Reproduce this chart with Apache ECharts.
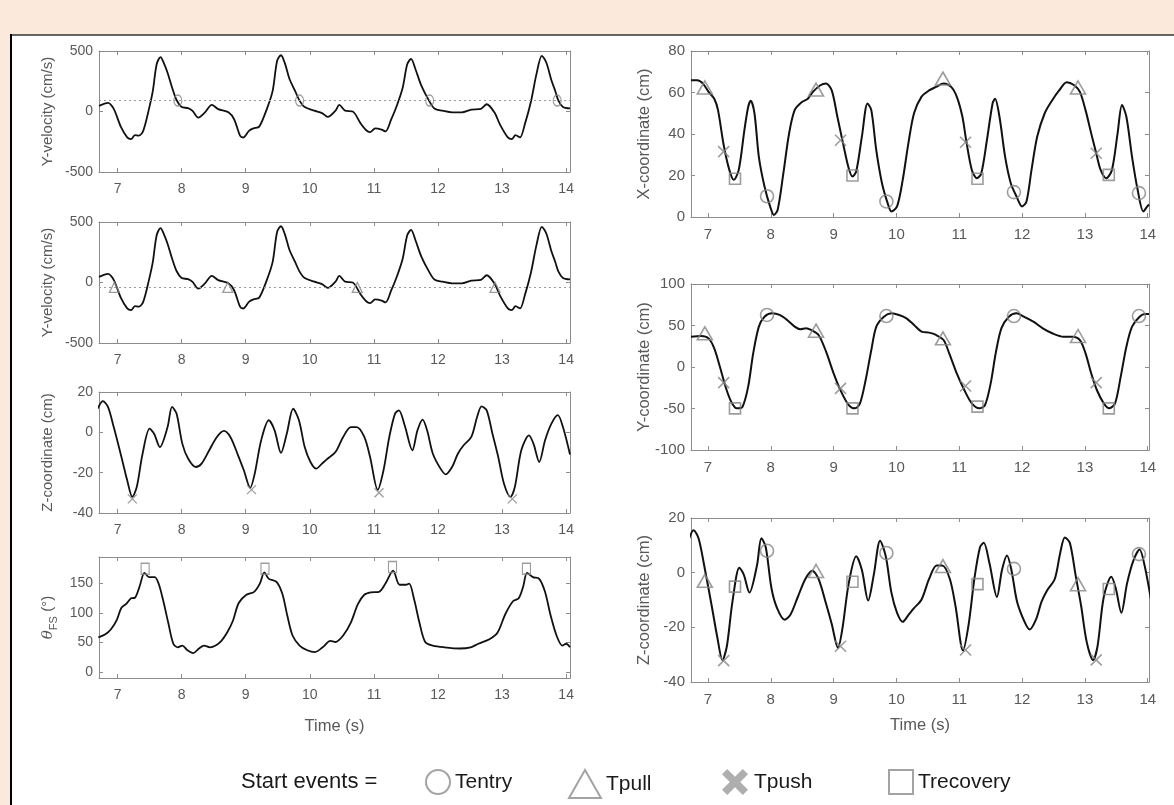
<!DOCTYPE html>
<html>
<head>
<meta charset="utf-8">
<script src="https://cdn.jsdelivr.net/npm/echarts@6.0.0/dist/echarts.min.js"></script>
<style>
  html, body { margin: 0; padding: 0; background: #fff; }
  #chart { width: 1174px; height: 805px; }
</style>
</head>
<body>
<div id="chart"></div>
<script>
// ---- data (time in s) ----
const timeTicks = [7, 8, 9, 10, 11, 12, 13, 14];
const velTicks = [-500, 0, 500];
const zTicks = [-40, -20, 0, 20];
const thetaTicks = [0, 50, 100, 150];
const xCoordTicks = [0, 20, 40, 60, 80];
const yCoordTicks = [-100, -50, 0, 50, 100];

// start events
const entryT = [7.94, 9.84, 11.87, 13.86];
const pullT = [6.95, 8.72, 10.74, 12.89];
const pushT = [7.25, 9.11, 11.10, 13.18];
const recovT = [7.43, 9.30, 11.29, 13.38];

// thresholds (dotted lines) on the Y-velocity plots
const entryVelLevel = 90;
const pullVelLevel = -40;

// marker heights per panel
const zPushLeft = [-33, -28.4, -30, -33];
const thetaRecov = [175, 175, 178, 175];
const xEntry = [10, 7.5, 12, 11.5];
const xPull = [62.4, 61.4, 66.7, 62.4];
const xPush = [31.5, 37, 36, 30.7];
const xRecov = [18.4, 20, 18.4, 20.3];
const yEntry = [62.7, 61.4, 61.4, 61.4];
const yPull = [40.6, 43.8, 34.5, 37.3];
const yPush = [-18.9, -25.7, -22.9, -18.9];
const yRecov = [-49.8, -49.8, -47.8, -49.8];
const zEntry = [8, 7.2, 1.4, 6.8];
const zPull = [-3, 0.6, 2.4, -4.2];
const zPush = [-32.2, -26.9, -28.3, -31.9];
const zRecov = [-5.1, -3.3, -4.2, -6];

// curves: [time, value]
const yVelocity = [
  [6.71,46],[6.85,72],[6.94,22],[7.05,-125],[7.15,-214],[7.21,-229],[7.27,-195],[7.33,-200],
  [7.40,-160],[7.49,22],[7.55,170],[7.61,391],[7.67,450],[7.73,390],[7.78,320],[7.85,199],
  [7.92,95],[8.0,37],[8.1,28],[8.17,5],[8.26,-50],[8.36,-10],[8.47,55],[8.57,20],[8.73,-7],
  [8.82,-66],[8.91,-199],[8.96,-215],[9.05,-160],[9.12,-140],[9.21,-125],[9.33,22],[9.42,170],
  [9.49,420],[9.55,465],[9.61,400],[9.68,273],[9.77,170],[9.84,90],[9.92,37],[10.07,7],
  [10.19,-13],[10.28,-45],[10.40,7],[10.46,55],[10.55,7],[10.67,0],[10.79,-96],[10.88,-155],
  [10.94,-170],[11.02,-140],[11.12,-150],[11.18,-165],[11.27,-66],[11.36,52],[11.45,199],
  [11.52,390],[11.58,435],[11.65,347],[11.74,214],[11.86,90],[11.95,22],[12.07,7],[12.22,-7],
  [12.37,-7],[12.52,16],[12.67,22],[12.76,60],[12.88,-7],[12.97,-110],[13.09,-214],[13.15,-229],
  [13.21,-195],[13.28,-214],[13.36,-96],[13.45,81],[13.54,317],[13.62,460],[13.69,405],
  [13.77,258],[13.83,170],[13.88,90],[13.95,37],[14.06,25]
];

const zCoord = [
  [6.69,11.7],[6.77,15.5],[6.85,12.6],[6.94,2.6],[7.06,-12.2],[7.15,-23.8],[7.23,-32],[7.30,-27],
  [7.39,-10.6],[7.50,1.8],[7.57,-0.7],[7.66,-7.3],[7.78,2.6],[7.85,12.6],[7.92,9.3],[8.01,-5.6],
  [8.10,-13],[8.22,-17.2],[8.31,-15.5],[8.43,-8.9],[8.55,-2.3],[8.66,0.7],[8.76,-2.3],[8.88,-11.4],
  [8.97,-18.8],[9.07,-27.5],[9.14,-20.5],[9.24,-4],[9.36,6],[9.45,1],[9.55,-10.2],[9.64,-0.7],
  [9.74,11.7],[9.83,6],[9.92,-7.3],[10.01,-14.7],[10.10,-18],[10.19,-15.5],[10.28,-13],[10.40,-9.8],
  [10.52,-2.3],[10.64,2.6],[10.73,2.6],[10.85,-2.3],[10.94,-12.2],[11.06,-28.5],[11.15,-18.8],
  [11.24,-2.3],[11.33,9.3],[11.39,10.9],[11.48,3.5],[11.60,-8.9],[11.68,1],[11.76,6.3],[11.83,1],
  [11.92,-10.6],[12.04,-18],[12.12,-20.8],[12.22,-17.2],[12.31,-10.6],[12.40,-6.4],[12.52,-2.3],
  [12.61,7.6],[12.68,12.9],[12.76,10.9],[12.85,-0.7],[12.94,-12.2],[13.03,-25.5],[13.13,-32],
  [13.20,-27],[13.30,-8.9],[13.42,-1.5],[13.49,-5.6],[13.58,-14.7],[13.67,-4],[13.77,4.3],
  [13.87,8.5],[13.95,2.6],[14.06,-11]
];

const thetaFS = [
  [6.70,59],[6.81,64],[6.90,73],[6.99,89],[7.06,109],[7.14,116],[7.21,125],[7.27,126],[7.34,144],
  [7.42,168],[7.49,161],[7.58,161],[7.64,150],[7.71,122],[7.79,84],[7.87,48],[7.94,42],[8.01,45],
  [8.09,37],[8.18,32],[8.27,40],[8.35,45],[8.44,42],[8.53,45],[8.62,53],[8.71,67],[8.80,87],
  [8.89,117],[9.01,131],[9.13,136],[9.22,150],[9.29,169],[9.36,158],[9.48,153],[9.57,133],
  [9.65,95],[9.73,62],[9.84,45],[9.96,37],[10.08,34],[10.20,42],[10.32,53],[10.40,51],[10.52,62],
  [10.64,84],[10.75,115],[10.85,131],[10.95,135],[11.08,136],[11.18,150],[11.30,172],[11.40,148],
  [11.50,148],[11.55,150],[11.63,122],[11.71,84],[11.80,51],[11.92,45],[12.10,42],[12.34,40],
  [12.51,42],[12.63,48],[12.81,56],[12.93,67],[13.05,98],[13.17,120],[13.26,125],[13.33,145],
  [13.39,168],[13.48,161],[13.58,158],[13.67,136],[13.76,95],[13.85,62],[13.94,45],[14.00,48],
  [14.06,42]
];

const xCoord = [
  [6.73,65.9],[6.83,65.9],[6.92,64.3],[7.01,60.3],[7.10,57],[7.16,51.5],[7.25,34.7],[7.34,22.7],
  [7.41,17.9],[7.49,22.7],[7.58,41.9],[7.64,53],[7.68,56],[7.74,50],[7.81,29],[7.90,14.7],[7.99,5],
  [8.05,1],[8.11,3.5],[8.20,21],[8.29,40],[8.38,51.5],[8.50,55.5],[8.59,57],[8.67,60.3],[8.79,63.5],
  [8.88,64.3],[8.97,61],[9.06,48.3],[9.15,35.5],[9.24,23.5],[9.30,19.5],[9.36,22],[9.45,38.7],
  [9.54,54.7],[9.60,51.5],[9.68,32],[9.77,16.3],[9.86,6.7],[9.92,2.7],[10.01,5.1],[10.10,17.9],
  [10.19,35.5],[10.28,50],[10.40,58],[10.52,61],[10.63,62.7],[10.75,64.3],[10.87,62.7],[10.96,58],
  [11.05,48.3],[11.11,37],[11.20,22.7],[11.28,18.7],[11.35,21],[11.44,37],[11.53,54.7],[11.57,57],
  [11.64,48.3],[11.73,29],[11.82,16.3],[11.91,10],[12.00,5.1],[12.07,7.5],[12.15,22.7],[12.24,38.7],
  [12.36,50],[12.48,56.3],[12.59,61],[12.71,65],[12.83,63.5],[12.92,60.3],[13.01,51.5],[13.10,40.3],
  [13.18,30.7],[13.25,22.7],[13.34,18.7],[13.43,22.7],[13.52,40.3],[13.59,54],[13.66,48.3],
  [13.75,29],[13.84,13],[13.93,2.7],[13.99,5],[14.02,6]
];

const yCoord = [
  [6.73,36.5],[6.89,37.3],[7.01,34.5],[7.10,22.5],[7.19,0.4],[7.28,-23.7],[7.37,-41.8],[7.46,-49.8],
  [7.55,-47.8],[7.64,-23.7],[7.72,16.5],[7.81,48.6],[7.90,60.6],[8.02,64.7],[8.14,62.7],[8.26,56.6],
  [8.38,48.6],[8.47,45.4],[8.56,46.6],[8.64,44.6],[8.76,38.6],[8.88,18.5],[9.00,-7.6],[9.12,-29.7],
  [9.24,-45.8],[9.34,-49.8],[9.42,-43.8],[9.51,-15.7],[9.60,20.5],[9.68,48.6],[9.80,60.6],[9.92,64.7],
  [10.04,62.7],[10.16,58.6],[10.28,50.6],[10.40,42.6],[10.52,41.4],[10.63,38.6],[10.75,32.5],
  [10.84,16.5],[10.96,-7.6],[11.08,-27.7],[11.20,-43.8],[11.32,-49.8],[11.41,-45.8],[11.50,-19.7],
  [11.58,16.5],[11.67,46.6],[11.79,60.6],[11.91,64.7],[12.03,60.6],[12.18,54.6],[12.33,46.6],
  [12.48,40.6],[12.66,36.5],[12.80,36.5],[12.92,32.5],[13.01,16.5],[13.10,-7.6],[13.19,-27.7],
  [13.30,-43.8],[13.39,-49.8],[13.48,-43.8],[13.57,-11.6],[13.66,24.5],[13.75,48.6],[13.87,60.6],
  [13.96,63.9],[14.02,63.9]
];

// ---- styling ----
const FONT = "'Liberation Sans', Arial, sans-serif";
const AXIS = '#8c8c8c';
const TEXT = '#595959';
const MARK = '#858585';
const CURVE = '#111';

const grids = [];
const xAxes = [];
const yAxes = [];
const series = [];

function pairs(times, values) {
  return times.map((t, i) => [t, values[i]]);
}

function addPanel(p) {
  const i = grids.length;
  grids.push({ left: p.left, top: p.top, width: p.width, height: p.height, outerBoundsMode: 'none' });
  const line = { show: true, onZero: false, lineStyle: { color: AXIS, width: 1 } };
  const tick = vals => ({ show: true, inside: true, length: 4, customValues: vals, lineStyle: { color: AXIS } });
  const nameStyle = { color: TEXT, fontSize: p.nameSize, fontFamily: FONT };
  xAxes.push({
    gridIndex: i, type: 'value', min: p.x[0], max: p.x[1],
    axisLine: line, axisTick: tick(timeTicks), splitLine: { show: false },
    axisLabel: { customValues: timeTicks, color: TEXT, fontSize: p.tickSize, fontFamily: FONT, margin: 10 },
    name: p.xName || '', nameLocation: 'middle', nameGap: p.xNameGap || 30, nameMoveOverlap: false,
    nameTextStyle: nameStyle
  });
  xAxes.push({
    gridIndex: i, type: 'value', position: 'top', min: p.x[0], max: p.x[1],
    axisLine: line, axisTick: tick(timeTicks), axisLabel: { show: false }, splitLine: { show: false }
  });
  yAxes.push({
    gridIndex: i, type: 'value', min: p.y[0], max: p.y[1],
    axisLine: line, axisTick: tick(p.yTicks), splitLine: { show: false },
    axisLabel: { customValues: p.yTicks, color: TEXT, fontSize: p.tickSize, fontFamily: FONT, margin: 6 },
    name: p.yName, nameLocation: 'middle', nameGap: p.yNameGap, nameMoveOverlap: false,
    nameTextStyle: Object.assign({}, nameStyle, p.yNameRich ? { rich: p.yNameRich } : {})
  });
  yAxes.push({
    gridIndex: i, type: 'value', position: 'right', min: p.y[0], max: p.y[1],
    axisLine: line, axisTick: tick(p.yTicks), axisLabel: { show: false }, splitLine: { show: false }
  });
  return 2 * i;
}

function curve(ax, data, width, level) {
  const s = {
    type: 'line', xAxisIndex: ax, yAxisIndex: ax, data: data, smooth: 0.3,
    showSymbol: false, silent: true, lineStyle: { color: CURVE, width: width }
  };
  if (level !== undefined) {
    s.markLine = {
      silent: true, symbol: 'none', label: { show: false },
      lineStyle: { color: '#9a9a9a', type: [2, 3], width: 1.2 },
      data: [{ yAxis: level }]
    };
  }
  series.push(s);
}

const symbols = {
  Tentry: 'circle',
  Tpull: 'triangle',
  Tpush: 'path://M0,0L10,10M10,0L0,10',
  Trecovery: 'rect'
};

function markers(ax, name, data, size, width) {
  series.push({
    type: 'scatter', name: name, xAxisIndex: ax, yAxisIndex: ax, data: data,
    symbol: symbols[name], symbolSize: size, silent: true, z: 3,
    itemStyle: { color: 'rgba(0,0,0,0)', borderColor: MARK, borderWidth: width }
  });
}

// ---- left column ----
const L = { left: 99, width: 471, height: 121, x: [6.71, 14.06], tickSize: 14, nameSize: 15, yNameGap: 44 };
let ax;

ax = addPanel(Object.assign({}, L, { top: 51, y: [-500, 500], yTicks: velTicks, yName: 'Y-velocity (cm/s)' }));
curve(ax, yVelocity, 1.8, entryVelLevel);
markers(ax, 'Tentry', entryT.map(t => [t, entryVelLevel]), [8, 11], 1.3);

ax = addPanel(Object.assign({}, L, { top: 222, y: [-500, 500], yTicks: velTicks, yName: 'Y-velocity (cm/s)' }));
curve(ax, yVelocity, 1.8, pullVelLevel);
markers(ax, 'Tpull', pullT.map(t => [t, pullVelLevel]), [10, 10], 1.3);

ax = addPanel(Object.assign({}, L, { top: 392, y: [-40, 20], yTicks: zTicks, yName: 'Z-coordinate (cm)' }));
curve(ax, zCoord, 1.8);
markers(ax, 'Tpush', pairs(pushT.map(t => t - 0.02), zPushLeft), 9, 1.3);

ax = addPanel(Object.assign({}, L, {
  top: 557, y: [-10, 195], yTicks: thetaTicks, yNameGap: 40,
  yName: '{t|θ}{s|FS} {n|(°)}',
  yNameRich: {
    t: { fontSize: 15, fontStyle: 'italic', fontFamily: 'DejaVu Serif, serif', color: TEXT, lineHeight: 22, verticalAlign: 'middle' },
    s: { fontSize: 11, fontFamily: FONT, color: TEXT, lineHeight: 22, verticalAlign: 'bottom', padding: [6, 0, 0, 0] },
    n: { fontSize: 15, fontFamily: FONT, color: TEXT, lineHeight: 22, verticalAlign: 'middle' }
  },
  xName: 'Time (s)', xNameGap: 40, nameSize: 16.5
}));
curve(ax, thetaFS, 1.8);
markers(ax, 'Trecovery', pairs(recovT, thetaRecov), [8, 11], 1.3);

// ---- right column ----
const R = { left: 691, width: 458, x: [6.73, 14.02], tickSize: 15, nameSize: 16.5, yNameGap: 38 };

ax = addPanel(Object.assign({}, R, { top: 51, height: 166, y: [0, 80], yTicks: xCoordTicks, yName: 'X-coordinate (cm)' }));
curve(ax, xCoord, 2);
markers(ax, 'Tentry', pairs(entryT, xEntry), 13, 1.6);
markers(ax, 'Tpull', pairs(pullT, xPull), [15, 13], 1.6);
markers(ax, 'Tpush', pairs(pushT, xPush), 11, 1.6);
markers(ax, 'Trecovery', pairs(recovT, xRecov), 11, 1.6);

ax = addPanel(Object.assign({}, R, { top: 284, height: 166, y: [-100, 100], yTicks: yCoordTicks, yName: 'Y-coordinate (cm)' }));
curve(ax, yCoord, 2);
markers(ax, 'Tentry', pairs(entryT, yEntry), 13, 1.6);
markers(ax, 'Tpull', pairs(pullT, yPull), [15, 13], 1.6);
markers(ax, 'Tpush', pairs(pushT, yPush), 11, 1.6);
markers(ax, 'Trecovery', pairs(recovT, yRecov), 11, 1.6);

ax = addPanel(Object.assign({}, R, {
  top: 518, height: 164, y: [-40, 20], yTicks: zTicks, yName: 'Z-coordinate (cm)',
  xName: 'Time (s)', xNameGap: 35
}));
curve(ax, zCoord, 2);
markers(ax, 'Tentry', pairs(entryT, zEntry), 13, 1.6);
markers(ax, 'Tpull', pairs(pullT, zPull), [15, 13], 1.6);
markers(ax, 'Tpush', pairs(pushT, zPush), 11, 1.6);
markers(ax, 'Trecovery', pairs(recovT, zRecov), 11, 1.6);

// ---- legend row ----
const hollow = { color: 'rgba(0,0,0,0)', borderColor: '#8c8c8c', borderWidth: 2 };
const boldCross = 'path://M0,4L4,0L10,6L16,0L20,4L14,10L20,16L16,20L10,14L4,20L0,16L6,10Z';
const legendItems = [
  { name: 'Tentry', icon: 'circle', left: 425, w: 24, h: 24, style: hollow },
  { name: 'Tpull', icon: 'triangle', left: 568, w: 32, h: 28, style: hollow },
  { name: 'Tpush', icon: boldCross, left: 722, w: 28, h: 26,
    style: { color: '#9a9a9a', borderColor: '#9a9a9a', borderWidth: 0 } },
  { name: 'Trecovery', icon: 'rect', left: 888, w: 24, h: 24, style: hollow }
];

const option = {
  backgroundColor: '#fff',
  animation: false,
  title: {
    text: 'Start events =', left: 241, top: 771, padding: 0,
    textStyle: { fontSize: 22, fontWeight: 'normal', color: '#1a1a1a', fontFamily: FONT }
  },
  legend: legendItems.map(it => ({
    left: it.left, top: 769, padding: 0, itemWidth: it.w, itemHeight: it.h, selectedMode: false,
    icon: it.icon, itemStyle: it.style,
    textStyle: { fontSize: 21, color: '#1a1a1a', fontFamily: FONT },
    data: [{ name: it.name, icon: it.icon, itemStyle: it.style }]
  })),
  graphic: [
    { type: 'rect', shape: { x: 0, y: 0, width: 1174, height: 35 }, style: { fill: '#fbe9db' }, silent: true },
    { type: 'rect', shape: { x: 0, y: 0, width: 10, height: 805 }, style: { fill: '#fbe9db' }, silent: true },
    { type: 'line', shape: { x1: 10, y1: 35, x2: 1174, y2: 35 }, style: { stroke: '#333', lineWidth: 1.5 }, silent: true },
    { type: 'line', shape: { x1: 11, y1: 34, x2: 11, y2: 805 }, style: { stroke: '#000', lineWidth: 2 }, silent: true }
  ],
  grid: grids,
  xAxis: xAxes,
  yAxis: yAxes,
  series: series
};

const chart = echarts.init(document.getElementById('chart'));
chart.setOption(option);
window.addEventListener('resize', () => chart.resize());
</script>
</body>
</html>
